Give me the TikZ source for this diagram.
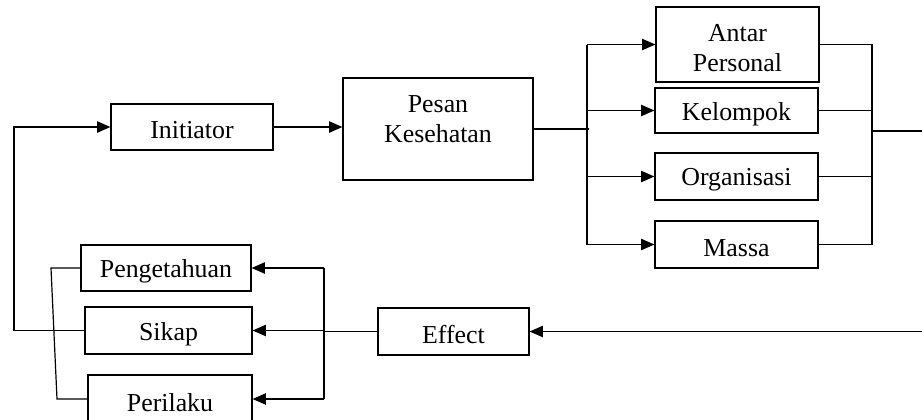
\documentclass[tikz,border=0pt]{standalone}
\usepackage{fontspec}
\setmainfont{Liberation Serif}
\usetikzlibrary{arrows.meta,calc}
\newcommand{\dn}[1]{\raisebox{-2.5pt}[\height][\depth]{#1}}
\tikzset{
  bx/.style n args={2}{draw, line width=0.9pt, minimum width=#1*0.75pt, minimum height=#2*0.75pt,
    inner sep=0pt, align=center, font=\fontsize{19.4}{22.5}\selectfont},
  ln/.style={line width=0.9pt},
  ar/.style={line width=0.9pt, -{Triangle[length=10pt,width=8.5pt]}}
}
\begin{document}
\begin{tikzpicture}[x=0.75pt,y=-0.75pt]
\useasboundingbox (0,0) rectangle (922,419);
\clip (0,0) rectangle (922,419);
% nodes
\node[bx={162}{46}] (init) at (192,127) {\dn{Initiator}};
\node[bx={190}{102}, label={[name=pesanT, align=center, font=\fontsize{19.4}{22.5}\selectfont, yshift=7.5pt]center:Pesan\\Kesehatan}] (pesan) at (438,129) {};
\node[bx={163}{75}] (antar) at (737.5,44.5) {\dn{Antar}\\\dn{Personal}};
\node[bx={163}{45}] (kel) at (736.5,110.5) {\dn{Kelompok}};
\node[bx={163}{47}] (org) at (736.5,176.5) {\dn{Organisasi}};
\node[bx={163}{47}] (massa) at (736.5,244.5) {\dn{Massa}};
\node[bx={151}{47}] (effect) at (453.5,331.5) {\dn{Effect}};
\node[bx={170}{46}] (peng) at (166,268) {\dn{Pengetahuan}};
\node[bx={167}{47}] (sikap) at (168.5,330.5) {\dn{Sikap}};
\node[bx={164}{48}] (peril) at (170,399) {\dn{Perilaku}};
% helper coordinates
\coordinate (lbus) at (14,0);
\coordinate (sp) at (587,0);
\coordinate (rb) at (872,0);
\coordinate (out) at (922,131);
\coordinate (in) at (922,331.5);
\coordinate (bb) at (324,0);
\coordinate (lb1) at (51,0);
\coordinate (lb2) at (57,0);
% connectors
\draw[ar] (sikap.west) -| (lbus |- init.west) -- (init.west);
\draw[ar] (init.east) -- (pesan.west |- init.east);
\draw[ln] (pesan.east) -- ($(sp |- pesan.east)+(2,0)$);
\draw[ln] (sp |- antar.west) -- (sp |- massa.west);
\draw[ar] (sp |- antar.west) -- (antar.west);
\draw[ar] (sp |- kel.west) -- (kel.west);
\draw[ar] (sp |- org.west) -- (org.west);
\draw[ar] (sp |- massa.west) -- (massa.west);
\draw[ln] (antar.east) -- (rb |- antar.east) -- (rb |- massa.east) -- (massa.east);
\draw[ln] (kel.east) -- (rb |- kel.east);
\draw[ln] (org.east) -- (rb |- org.east);
\draw[ln] (rb |- out) -- (out);
\draw[ar] (in) -- (effect.east);
\draw[ln] (effect.west) -- (bb |- effect.west);
\draw[ln] (bb |- peng.east) -- (bb |- peril.east);
\draw[ar] (bb |- peng.east) -- (peng.east);
\draw[ar] (bb |- sikap.east) -- (sikap.east);
\draw[ar] (bb |- peril.east) -- (peril.east);
\draw[ln] (peng.west) -- (lb1 |- peng.west) -- (lb2 |- peril.west) -- (peril.west);
\end{tikzpicture}
\end{document}
